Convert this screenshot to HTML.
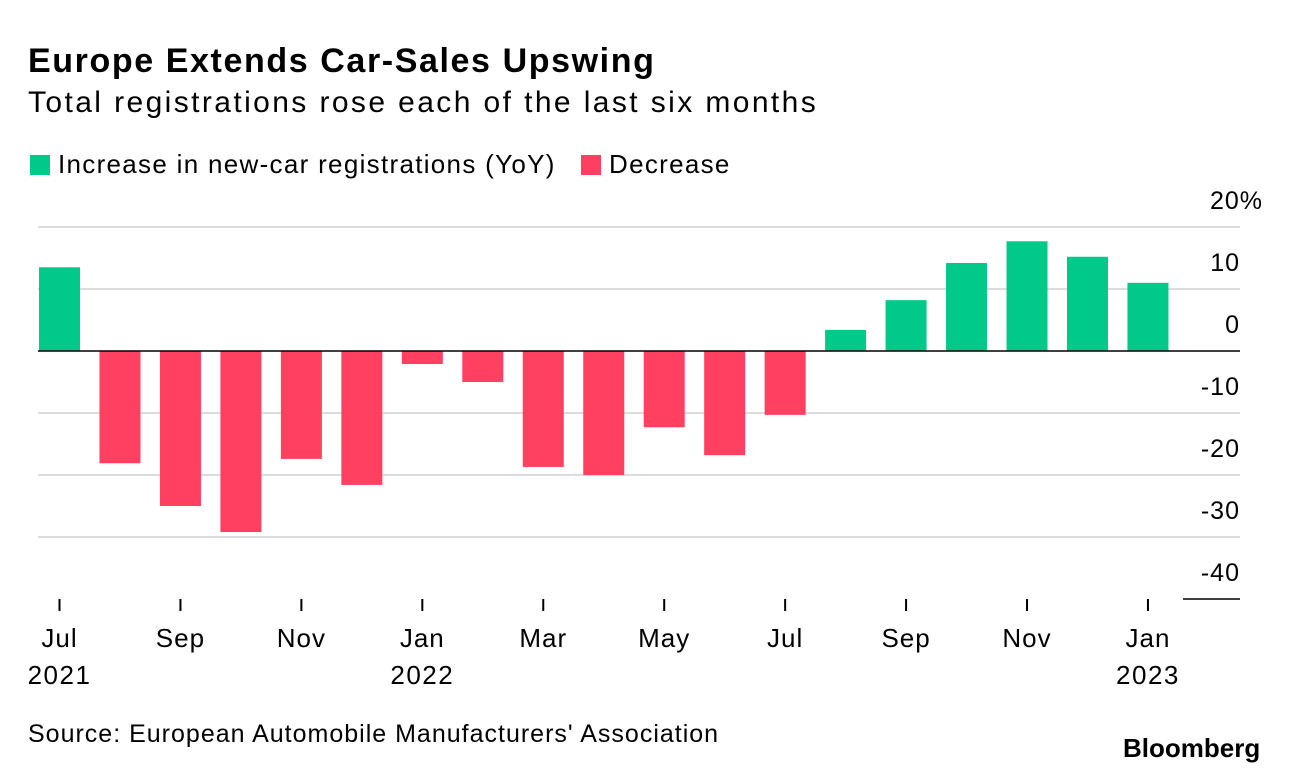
<!DOCTYPE html>
<html><head><meta charset="utf-8">
<style>
body{margin:0;background:#fff;font-family:"Liberation Sans",sans-serif;color:#000;}
#wrap{position:relative;width:1292px;height:774px;overflow:hidden;}
.t{position:absolute;white-space:nowrap;}
</style></head>
<body>
<div id="wrap">
<div class="t" style="left:28px;top:42px;font-size:34px;font-weight:bold;letter-spacing:1.6px">Europe Extends Car-Sales Upswing</div>
<div class="t" style="left:28px;top:86px;font-size:30px;letter-spacing:2.4px">Total registrations rose each of the last six months</div>
<div class="t" style="left:30px;top:149px;font-size:26px;letter-spacing:1.3px"><span style="display:inline-block;width:20px;height:20px;background:#00c98a;vertical-align:-2px;margin-right:8px"></span>Increase in new-car registrations (YoY)</div>
<div class="t" style="left:581px;top:149px;font-size:26px;letter-spacing:1.3px"><span style="display:inline-block;width:20px;height:20px;background:#ff4060;vertical-align:-2px;margin-right:8px"></span>Decrease</div>
<svg id="chart" width="1292" height="774" style="position:absolute;left:0;top:0"></svg>
<div class="t" style="left:28px;top:720px;font-size:25px;letter-spacing:1px">Source: European Automobile Manufacturers' Association</div>
<div class="t" style="left:1123px;top:733px;font-size:26px;font-weight:bold;letter-spacing:0px">Bloomberg</div>
</div>
<script>
const months=["Jul","Aug","Sep","Oct","Nov","Dec","Jan","Feb","Mar","Apr","May","Jun","Jul","Aug","Sep","Oct","Nov","Dec","Jan"];
const values=[13.5,-18.1,-25,-29.2,-17.4,-21.6,-2.1,-5,-18.7,-20,-12.3,-16.8,-10.3,3.4,8.2,14.2,17.7,15.2,11];
const yTicks=[20,10,0,-10,-20,-30,-40];
const yTickLabels=["20%","10","0","-10","-20","-30","-40"];
const xLabelIdx=[0,2,4,6,8,10,12,14,16,18];
const yearLabels={0:"2021",6:"2022",18:"2023"};
const NS="http://www.w3.org/2000/svg";
const svg=document.getElementById('chart');
const y=v=>351-v*6.2;
const x=i=>59.5+i*60.47;
function mk(tag,attrs){const e=document.createElementNS(NS,tag);for(const k in attrs)e.setAttribute(k,attrs[k]);svg.appendChild(e);return e;}
yTicks.forEach((v,k)=>{
  if(v!==0&&v!==-40){const g=mk('line',{x1:38,x2:1240,y1:y(v),y2:y(v),stroke:'#dcdcdc','stroke-width':2});
  
  }
  const lbl=yTickLabels[k];
  const t=mk('text',{x:lbl.endsWith('%')?1263:1240,y:y(v)-18,'text-anchor':'end','font-size':25,'letter-spacing':1,'font-family':'Liberation Sans, sans-serif'});
  t.textContent=lbl;
  
  
});
const bl=mk('line',{x1:1183,x2:1240,y1:y(-40),y2:y(-40),stroke:'#000','stroke-width':1.5});


values.forEach((v,i)=>{
  const r=mk('rect',{x:x(i)-20.5,width:41,y:Math.min(y(v),y(0)),height:Math.abs(y(v)-y(0)),fill:v>=0?'#00c98a':'#ff4060'});
  
  
});
const z=mk('line',{x1:38,x2:1240,y1:y(0),y2:y(0),stroke:'#000','stroke-width':1.5});


xLabelIdx.forEach(i=>{
  const tk=mk('line',{x1:x(i),x2:x(i),y1:599,y2:611,stroke:'#000','stroke-width':2});
  
  
  const t=mk('text',{x:x(i),y:647,'text-anchor':'middle','font-size':26,'letter-spacing':1,'font-family':'Liberation Sans, sans-serif'});
  t.textContent=months[i];
  
  
  if(yearLabels[i]){const yl=mk('text',{x:x(i),y:684,'text-anchor':'middle','font-size':26,'letter-spacing':1.5,'font-family':'Liberation Sans, sans-serif'});
  yl.textContent=yearLabels[i];
  
  }
});
</script>
</body></html>
